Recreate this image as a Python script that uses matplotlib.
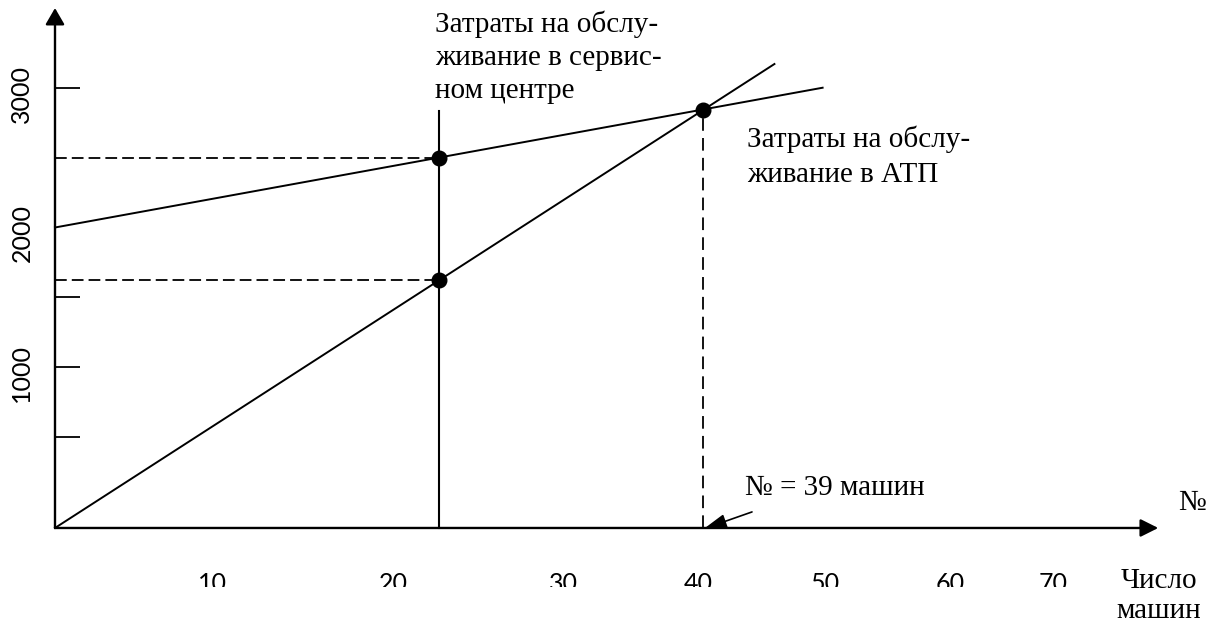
import matplotlib.pyplot as plt
from matplotlib.transforms import Bbox, TransformedBbox


# break-even diagram: servicing cost vs number of cars
AXIS_Y = -154            # level of the drawn horizontal axis
X_END = 66.4             # tip of the horizontal arrow
Y_END = 3573             # tip of the vertical arrow

# servicing in the service centre (flat line)
center_x = [0, 46.2]
center_y = [2000, 3002]

# servicing in own ATP (steep line)
atp_x = [0, 43.3]
atp_y = [-154, 3172]

# marked points: both costs at ~23 cars and the break-even point
point_x = [23.1, 23.1, 39]
point_y = [2501, 1623, 2845]

compare_x = 23.1
compare_top = 2835
break_x = 39
break_y = 2845

y_ticks = [500, 1000, 1500, 3000]
y_label_vals = [1000, 2000, 3000]
y_labels = ["1000", "2000", "3000"]
x_labels = ["10", "20", "30", "40", "50", "60", "70"]

# where the hand-placed x labels sit (layout only)
x_label_pos = [9.45, 20.34, 30.58, 38.70, 46.34, 53.87, 60.07]

SERIF = "Liberation Serif"
SANS = "Lato"


def put_lines(ax, lines, x, y0, step, **kw):
    for i, s in enumerate(lines):
        ax.text(x, y0 - i * step, s, va="baseline", **kw)


def main():
    fig = plt.figure(figsize=(12.16, 6.25), dpi=100)
    ax = fig.add_axes([0, 0, 1, 1])
    ax.set_xlim(-3.31, 69.876)
    ax.set_ylim(-849.5, 3630.8)
    ax.axis("off")

    # axes with arrow heads
    ax.annotate("", xy=(0, Y_END), xytext=(0, AXIS_Y),
                arrowprops=dict(arrowstyle="-|>,head_length=0.5,head_width=0.29",
                                mutation_scale=20, lw=1.7, color="black",
                                shrinkA=0, shrinkB=0))
    ax.annotate("", xy=(X_END, AXIS_Y), xytext=(0, AXIS_Y),
                arrowprops=dict(arrowstyle="-|>,head_length=0.54,head_width=0.27",
                                mutation_scale=20, lw=1.7, color="black",
                                shrinkA=0, shrinkB=0))

    for v in y_ticks:
        ax.plot([0, 1.5], [v, v], color="black", lw=1.3, solid_capstyle="butt")

    for v, s in zip(y_label_vals, y_labels):
        ax.annotate(s, xy=(-1.99, v), xytext=(0, -4), textcoords="offset points",
                    rotation=90, ha="center", va="center", fontsize=18, family=SANS)

    # the x labels are cut off at the bottom in the original
    clip = TransformedBbox(Bbox([[-10, -577], [80, 4000]]), ax.transData)
    for x, s in zip(x_label_pos, x_labels):
        t = ax.text(x, -604, s, ha="center", va="baseline", fontsize=18, family=SANS,
                    clip_on=True)
        t.set_clip_box(clip)

    # cost lines
    ax.plot(center_x, center_y, color="black", lw=1.4)
    ax.plot(atp_x, atp_y, color="black", lw=1.4)

    # reference lines
    ax.plot([compare_x, compare_x], [AXIS_Y, compare_top], color="black", lw=1.5)
    dv, = ax.plot([break_x, break_x], [AXIS_Y, break_y], color="black", lw=1.3)
    dv.set_dashes((7, 4))
    for v in point_y[:2]:
        dh, = ax.plot([0, compare_x], [v, v], color="black", lw=1.3)
        dh.set_dashes((6.5, 2.8))

    ax.plot(point_x, point_y, "o", color="black", ms=10.5, linestyle="none")

    # annotations
    put_lines(ax, ["Затраты на обслу-", "живание в сервис-", "ном центре"],
              22.87, 3401, 236.6, fontsize=21, family=SERIF)
    put_lines(ax, ["Затраты на обслу-", "живание в АТП"],
              41.65, 2577, 251, fontsize=21, family=SERIF)
    ax.text(41.53, 82, "№ = 39 машин", va="baseline", fontsize=21, family=SERIF)
    ax.annotate("", xy=(39.05, -160), xytext=(41.95, -39),
                arrowprops=dict(arrowstyle="-|>,head_length=0.7,head_width=0.22",
                                mutation_scale=20, lw=1.2, color="black",
                                shrinkA=0, shrinkB=0))
    ax.text(67.59, -25, "№", va="baseline", fontsize=21, family=SERIF)
    ax.text(66.45, -584.6, "Число", ha="center", va="baseline", fontsize=21, family=SERIF)
    ax.text(66.45, -799.6, "машин", ha="center", va="baseline", fontsize=21, family=SERIF)

    fig.savefig("out.png", dpi=100)


if __name__ == "__main__":
    main()
